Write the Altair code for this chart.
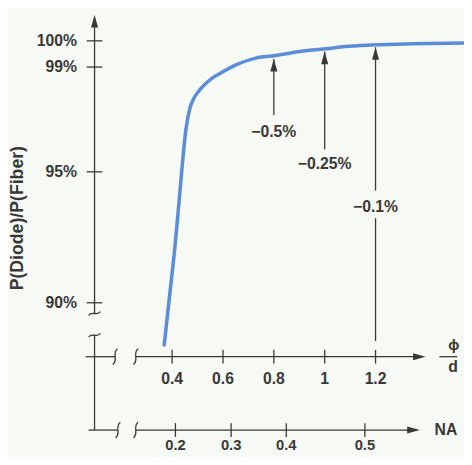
import altair as alt
import pandas as pd

# ---------------- data ----------------
# curve: phi/d (x) and P(Diode)/P(Fiber) in % (y)
phi_d = [0.369, 0.381, 0.396, 0.408, 0.419, 0.431, 0.443, 0.454, 0.470, 0.485,
         0.504, 0.528, 0.555, 0.593, 0.651, 0.729, 0.806, 0.902, 1.007, 1.096,
         1.200, 1.347, 1.548]
ratio = [88.39, 89.47, 90.79, 91.84, 92.96, 94.28, 95.59, 96.60, 97.43, 97.80,
         98.07, 98.33, 98.56, 98.78, 99.08, 99.34, 99.44, 99.59, 99.70, 99.79,
         99.85, 99.89, 99.92]

y_ticks = [90, 95, 99, 100]
y_tick_labels = ["90%", "95%", "99%", "100%"]
x_ticks = [0.4, 0.6, 0.8, 1.0, 1.2]
x_tick_labels = ["0.4", "0.6", "0.8", "1", "1.2"]
na_tick_pos = [0.413, 0.632, 0.849, 1.158]   # position on the phi/d scale
na_tick_labels = ["0.2", "0.3", "0.4", "0.5"]

arrow_x = [0.8, 1.0, 1.2]
arrow_tip = [99.31, 99.59, 99.76]
arrow_tail = [97.17, 95.85, 94.28]
arrow_labels = ["\u22120.5%", "\u22120.25%", "\u22120.1%"]
arrow_label_y = [96.53, 95.29, 93.64]

# axis geometry (data units)
Y_AXIS_X = 0.095
X_AXIS_Y = 87.94      # phi/d axis
NA_AXIS_Y = 85.14     # NA axis
Y_TOP = 100.99

# ---------------- styling ----------------
INK = "#383838"
FONT = "Liberation Sans"
BG = "#f7f9f4"
CURVE = "#5b8ed6"

xs = alt.Scale(domain=[0.4, 1.2], range=[167, 374], nice=False, zero=False)
ys = alt.Scale(domain=[90, 100], range=[296, 29.5], nice=False, zero=False)


def X(f="x"):
    return alt.X(f"{f}:Q", scale=xs, axis=None)


def Y(f="y"):
    return alt.Y(f"{f}:Q", scale=ys, axis=None)


curve = alt.Chart(pd.DataFrame({"x": phi_d, "y": ratio})).mark_line(
    color=CURVE, strokeWidth=3.6, interpolate="monotone", strokeCap="round"
).encode(x=X(), y=Y())

# axis lines and arrow shafts as segments
segs = pd.DataFrame([
    # y axis (with break)
    {"x": Y_AXIS_X, "x2": Y_AXIS_X, "y": Y_TOP - 0.3, "y2": 89.59},
    {"x": Y_AXIS_X, "x2": Y_AXIS_X, "y": 88.76, "y2": NA_AXIS_Y},
    # phi/d axis
    {"x": 0.06, "x2": 0.176, "y": X_AXIS_Y, "y2": X_AXIS_Y},
    {"x": 0.257, "x2": 1.37, "y": X_AXIS_Y, "y2": X_AXIS_Y},
    # NA axis
    {"x": 0.0715, "x2": 0.187, "y": NA_AXIS_Y, "y2": NA_AXIS_Y},
    {"x": 0.257, "x2": 1.35, "y": NA_AXIS_Y, "y2": NA_AXIS_Y},
    # fraction bar of phi/d
    {"x": 1.451, "x2": 1.521, "y": X_AXIS_Y, "y2": X_AXIS_Y},
    # lower part of the -0.1% arrow
    {"x": 1.2, "x2": 1.2, "y": 93.23, "y2": 88.54},
] + [
    {"x": ax, "x2": ax, "y": t, "y2": b}
    for ax, t, b in zip(arrow_x, arrow_tip, arrow_tail)
])
rules = alt.Chart(segs).mark_rule(color=INK, strokeWidth=1.3).encode(
    x=X(), x2="x2:Q", y=Y(), y2="y2:Q"
)

# arrow heads (tip at the anchor point)
HEAD = "M0,0L0.45,1.6L-0.45,1.6Z"
heads = pd.DataFrame({
    "x": [Y_AXIS_X, 1.397, 1.374] + arrow_x,
    "y": [Y_TOP, X_AXIS_Y, NA_AXIS_Y] + arrow_tip,
    "a": [0, 90, 90, 0, 0, 0],
})
head_layer = alt.Chart(heads).mark_point(
    shape=HEAD, filled=True, color=INK, size=256, opacity=1
).encode(x=X(), y=Y(), angle=alt.Angle("a:Q", scale=None))

# tick marks
yt = alt.Chart(pd.DataFrame({"x": [Y_AXIS_X] * 4, "y": y_ticks})).mark_point(
    shape="stroke", color=INK, strokeWidth=1.3, size=256, opacity=1
).encode(x=X(), y=Y())
xt = alt.Chart(pd.DataFrame({
    "x": x_ticks + na_tick_pos,
    "y": [X_AXIS_Y] * 5 + [NA_AXIS_Y] * 4,
})).mark_point(
    shape="stroke", angle=90, color=INK, strokeWidth=1.3, size=196, opacity=1
).encode(x=X(), y=Y())

# axis breaks
VSQ = "M0.3,-1C-0.45,-0.45,0.45,0.45,-0.3,1"
HSQ = "M-1,0.3C-0.45,-0.5,0.45,0.5,1,-0.3"
vbreaks = alt.Chart(pd.DataFrame({
    "x": [0.176, 0.257, 0.187, 0.257],
    "y": [X_AXIS_Y, X_AXIS_Y, NA_AXIS_Y, NA_AXIS_Y],
})).mark_point(shape=VSQ, filled=False, color=INK, strokeWidth=1.3, size=256,
               opacity=1).encode(x=X(), y=Y())
hbreaks = alt.Chart(pd.DataFrame({
    "x": [Y_AXIS_X, Y_AXIS_X], "y": [89.59, 88.76],
})).mark_point(shape=HSQ, filled=False, color=INK, strokeWidth=1.3, size=144,
               opacity=1).encode(x=X(), y=Y())

txt = dict(font=FONT, fontSize=16, fontWeight="bold", color=INK)

ylab = alt.Chart(pd.DataFrame({
    "x": [Y_AXIS_X] * 4, "y": y_ticks, "t": y_tick_labels,
})).mark_text(align="right", baseline="middle", dx=-18, **txt).encode(
    x=X(), y=Y(), text="t:N")

xlab = alt.Chart(pd.DataFrame({
    "x": x_ticks, "y": [X_AXIS_Y] * 5, "t": x_tick_labels,
})).mark_text(align="center", baseline="middle", dy=23, **txt).encode(
    x=X(), y=Y(), text="t:N")

nalab = alt.Chart(pd.DataFrame({
    "x": na_tick_pos, "y": [NA_AXIS_Y] * 4, "t": na_tick_labels,
})).mark_text(align="center", baseline="middle", dy=15,
              **{**txt, "fontSize": 15}).encode(
    x=X(), y=Y(), text="t:N")

alab = alt.Chart(pd.DataFrame({
    "x": arrow_x, "y": arrow_label_y, "t": arrow_labels,
})).mark_text(align="center", baseline="middle", **txt).encode(
    x=X(), y=Y(), text="t:N")

names = alt.Chart(pd.DataFrame({
    "x": [1.432, 1.486, 1.486],
    "y": [NA_AXIS_Y, 88.40, 87.55],
    "t": ["NA", "\u03d5", "d"],
    "s": [16, 15, 16],
})).mark_text(align="left", baseline="middle", **txt).encode(
    x=X(), y=Y(), text="t:N", size=alt.Size("s:Q", scale=None))

title = alt.Chart(pd.DataFrame({
    "x": [-0.207], "y": [93.23], "t": ["P(Diode)/P(Fiber)"],
})).mark_text(align="center", baseline="middle", angle=270,
              **{**txt, "fontSize": 18}).encode(
    x=X(), y=Y(), text="t:N")

chart = alt.layer(
    rules, curve, head_layer, yt, xt, vbreaks, hbreaks,
    ylab, xlab, nalab, alab, names, title,
).properties(
    width=464, height=449, autosize="none", padding=0, background=BG
).configure_view(stroke=None)

chart.save("out.html", embed_options={"renderer": "svg", "actions": False})
